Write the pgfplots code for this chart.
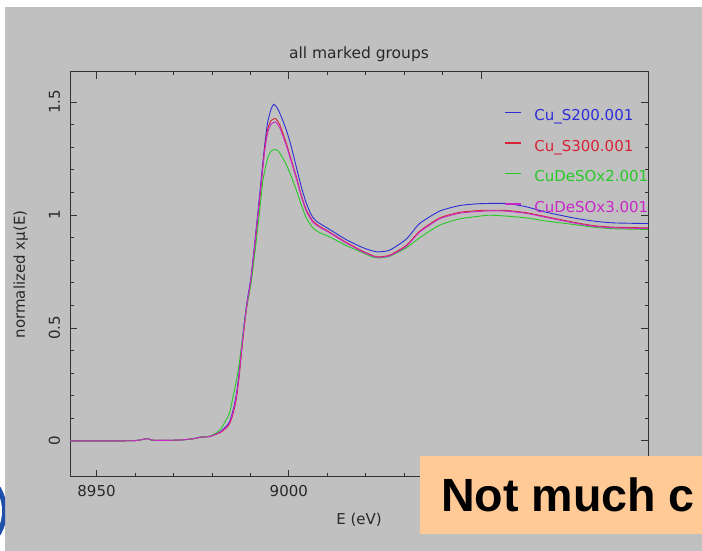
\documentclass[border=0pt]{standalone}
\usepackage{fontspec}
\setmainfont{DejaVu Sans}
\newfontfamily\boldsans{Liberation Sans}
\usepackage{pgfplots}
\pgfplotsset{compat=1.18}
\definecolor{bggray}{RGB}{192,192,192}
\definecolor{axisgray}{RGB}{50,50,50}
\definecolor{labelgray}{RGB}{40,40,40}
\definecolor{cblue}{RGB}{45,45,215}
\definecolor{cred}{RGB}{215,35,55}
\definecolor{cgreen}{RGB}{40,200,40}
\definecolor{cmag}{RGB}{200,40,200}
\definecolor{peach}{RGB}{255,202,150}
\definecolor{logoblue}{RGB}{30,80,170}
\definecolor{logonavy}{RGB}{15,30,90}

\pgfplotstableread{
x y
8943.1 0.000
8955 0.000
8960 0.001
8962 0.006
8963.2 0.010
8964.5 0.003
8968 0.002
8972 0.004
8975 0.009
8977 0.016
8979.3 0.019
8980.6 0.027
8982.2 0.040
8983.6 0.062
8984.6 0.085
8985.5 0.135
8986.3 0.200
8987.0 0.290
8988.0 0.460
8989.0 0.600
8990.2 0.730
8991.5 0.936
8992.8 1.157
8993.7 1.305
8994.5 1.410
8995.4 1.470
8996.1 1.490
8996.8 1.478
8997.6 1.453
8999.3 1.379
9000.6 1.305
9001.9 1.216
9003.2 1.128
9004.5 1.054
9005.8 1.002
9007.1 0.973
9010.6 0.936
9014.9 0.891
9019.3 0.855
9022.8 0.837
9026.2 0.844
9030.6 0.894
9034.0 0.962
9039.2 1.017
9044.5 1.042
9049.7 1.050
9056.6 1.051
9061.8 1.036
9067.0 1.012
9074.0 0.987
9079.2 0.973
9084.4 0.965
9093.4 0.962
}\blue

\pgfplotstableread{
x y
8943.1 0.000
8955 0.000
8960 0.001
8962 0.006
8963.2 0.010
8964.5 0.003
8968 0.002
8972 0.004
8975 0.009
8977 0.016
8979.3 0.019
8980.6 0.026
8982.2 0.037
8983.6 0.055
8984.6 0.075
8985.5 0.120
8986.3 0.180
8987.0 0.270
8988.0 0.440
8989.0 0.585
8990.2 0.715
8991.5 0.915
8992.8 1.130
8993.7 1.290
8994.5 1.380
8995.4 1.418
8996.5 1.427
8997.6 1.401
8999.3 1.320
9000.6 1.246
9001.9 1.172
9003.2 1.091
9004.5 1.024
9006.25 0.973
9008.0 0.950
9010.6 0.924
9014.9 0.879
9019.3 0.839
9022.8 0.815
9026.2 0.822
9030.6 0.866
9034.0 0.928
9039.2 0.987
9044.5 1.012
9049.7 1.020
9052.3 1.021
9056.6 1.020
9061.8 1.010
9067.0 0.992
9074.0 0.968
9079.2 0.953
9084.4 0.946
9093.4 0.943
}\red

\pgfplotstableread{
x y
8943.1 0.000
8955 0.000
8960 0.001
8962 0.006
8963.2 0.010
8964.5 0.003
8968 0.002
8972 0.004
8975 0.009
8977 0.017
8979.3 0.020
8980.6 0.030
8982.2 0.050
8983.6 0.090
8984.6 0.124
8985.5 0.196
8986.3 0.260
8987.0 0.330
8988.0 0.460
8989.0 0.590
8990.2 0.700
8991.5 0.880
8992.8 1.080
8993.3 1.157
8994.4 1.246
8995.4 1.283
8996.6 1.290
8997.6 1.276
8999.3 1.224
9000.6 1.172
9001.9 1.113
9003.2 1.047
9004.5 0.988
9006.25 0.943
9008.0 0.922
9010.6 0.903
9014.9 0.865
9019.3 0.832
9021.9 0.813
9023.5 0.810
9026.2 0.817
9030.6 0.855
9034.0 0.899
9039.2 0.955
9044.5 0.983
9049.7 0.995
9052.3 0.999
9056.6 0.995
9061.8 0.987
9067.0 0.973
9074.0 0.958
9079.2 0.946
9084.4 0.939
9093.4 0.936
}\green

\pgfplotstableread{
x y
8943.1 0.000
8955 0.000
8960 0.001
8962 0.006
8963.2 0.010
8964.5 0.003
8968 0.002
8972 0.004
8975 0.009
8977 0.016
8979.3 0.019
8980.6 0.027
8982.2 0.039
8983.6 0.058
8984.6 0.080
8985.5 0.128
8986.3 0.190
8987.0 0.280
8988.0 0.450
8989.0 0.592
8990.2 0.722
8991.5 0.925
8992.8 1.140
8993.7 1.280
8994.5 1.365
8995.4 1.402
8996.5 1.412
8997.6 1.388
8999.3 1.310
9000.6 1.238
9001.9 1.165
9003.2 1.085
9004.5 1.018
9006.25 0.968
9008.0 0.946
9010.6 0.921
9014.9 0.876
9019.3 0.836
9022.8 0.813
9026.2 0.819
9030.6 0.862
9034.0 0.924
9039.2 0.983
9044.5 1.008
9049.7 1.016
9052.3 1.018
9056.6 1.017
9061.8 1.007
9067.0 0.989
9074.0 0.965
9079.2 0.950
9084.4 0.943
9093.4 0.940
}\magenta

\begin{document}
\begin{tikzpicture}
\useasboundingbox (0pt,0pt) rectangle (702pt,551pt);
\clip (0pt,0pt) rectangle (702pt,551pt);
\fill[white] (0pt,0pt) rectangle (702pt,551pt);
\fill[bggray] (5pt,0pt) rectangle (702pt,544pt);
\begin{scope}
\clip (0pt,0pt) rectangle (5pt,551pt);
\fill[logoblue] (-40pt,40pt) circle (47pt);
\fill[white] (-40pt,40pt) circle (42pt);
\fill[logonavy] (-40pt,40pt) circle (38pt);
\end{scope}
\begin{axis}[
  at={(70pt,74pt)}, anchor=south west,
  width=578pt, height=405pt, scale only axis,
  xmin=8943.1, xmax=9093.4, ymin=-0.16, ymax=1.633,
  axis line style={draw=axisgray, line width=1pt},
  xtick={8950,9000,9050}, xticklabels={8950,9000,{}},
  ytick={0,0.5,1,1.5}, yticklabels={0,0.5,1,1.5},
  minor x tick num=4, minor y tick num=4,
  tick align=inside, major tick length=7pt, minor tick length=3.5pt,
  tick style={draw=axisgray, line width=0.8pt},
  tick label style={font=\fontsize{15}{18}\selectfont, text=labelgray},
  xticklabel style={anchor=base, yshift=-20pt},
  yticklabel style={xshift=-10pt, rotate=90, anchor=base},
  title={all marked groups},
  title style={at={(axis description cs:0.5,1)}, anchor=base, yshift=7.7pt, font=\fontsize{15.5}{18}\selectfont, text=labelgray},
  xlabel={E (eV)},
  xlabel style={at={(axis description cs:0.5,0)}, anchor=base, yshift=-48pt, font=\fontsize{15}{18}\selectfont, text=labelgray},
  ylabel={normalized xμ(E)},
  ylabel style={at={(axis description cs:-0.0779,0.5)}, anchor=base, font=\fontsize{15}{18}\selectfont, text=labelgray},
  legend style={at={(axis description cs:0.7509,0.9074)}, anchor=north west, draw=none, fill=none, inner sep=0pt, outer sep=0pt, row sep=16.5pt, font=\fontsize{15}{18}\selectfont, nodes={inner sep=0pt, text height=11pt, text depth=3pt, anchor=base west}, /tikz/every odd column/.append style={column sep=13pt}},
  legend cell align=left,
  legend image code/.code={\draw[#1, line width=1.3pt] (0pt,8pt) -- (16pt,8pt);},
  every axis plot/.append style={line width=0.9pt, smooth, tension=0.35},
]
\addplot[draw=cblue] table[x=x,y=y] {\blue};
\addlegendentry{\textcolor{cblue}{Cu\_S200.001}}
\addplot[draw=cred] table[x=x,y=y] {\red};
\addlegendentry{\textcolor{cred}{Cu\_S300.001}}
\addplot[draw=cgreen] table[x=x,y=y] {\green};
\addlegendentry{\textcolor{cgreen}{CuDeSOx2.001}}
\addplot[draw=cmag] table[x=x,y=y] {\magenta};
\addlegendentry{\textcolor{cmag}{CuDeSOx3.001}}
\end{axis}
\fill[peach] (420pt,17pt) rectangle (702pt,95pt);
\node[anchor=base west, inner sep=0pt, font=\boldsans\bfseries\fontsize{46.6}{50}\selectfont] at (441pt,39pt) {Not much c};
\end{tikzpicture}
\end{document}
